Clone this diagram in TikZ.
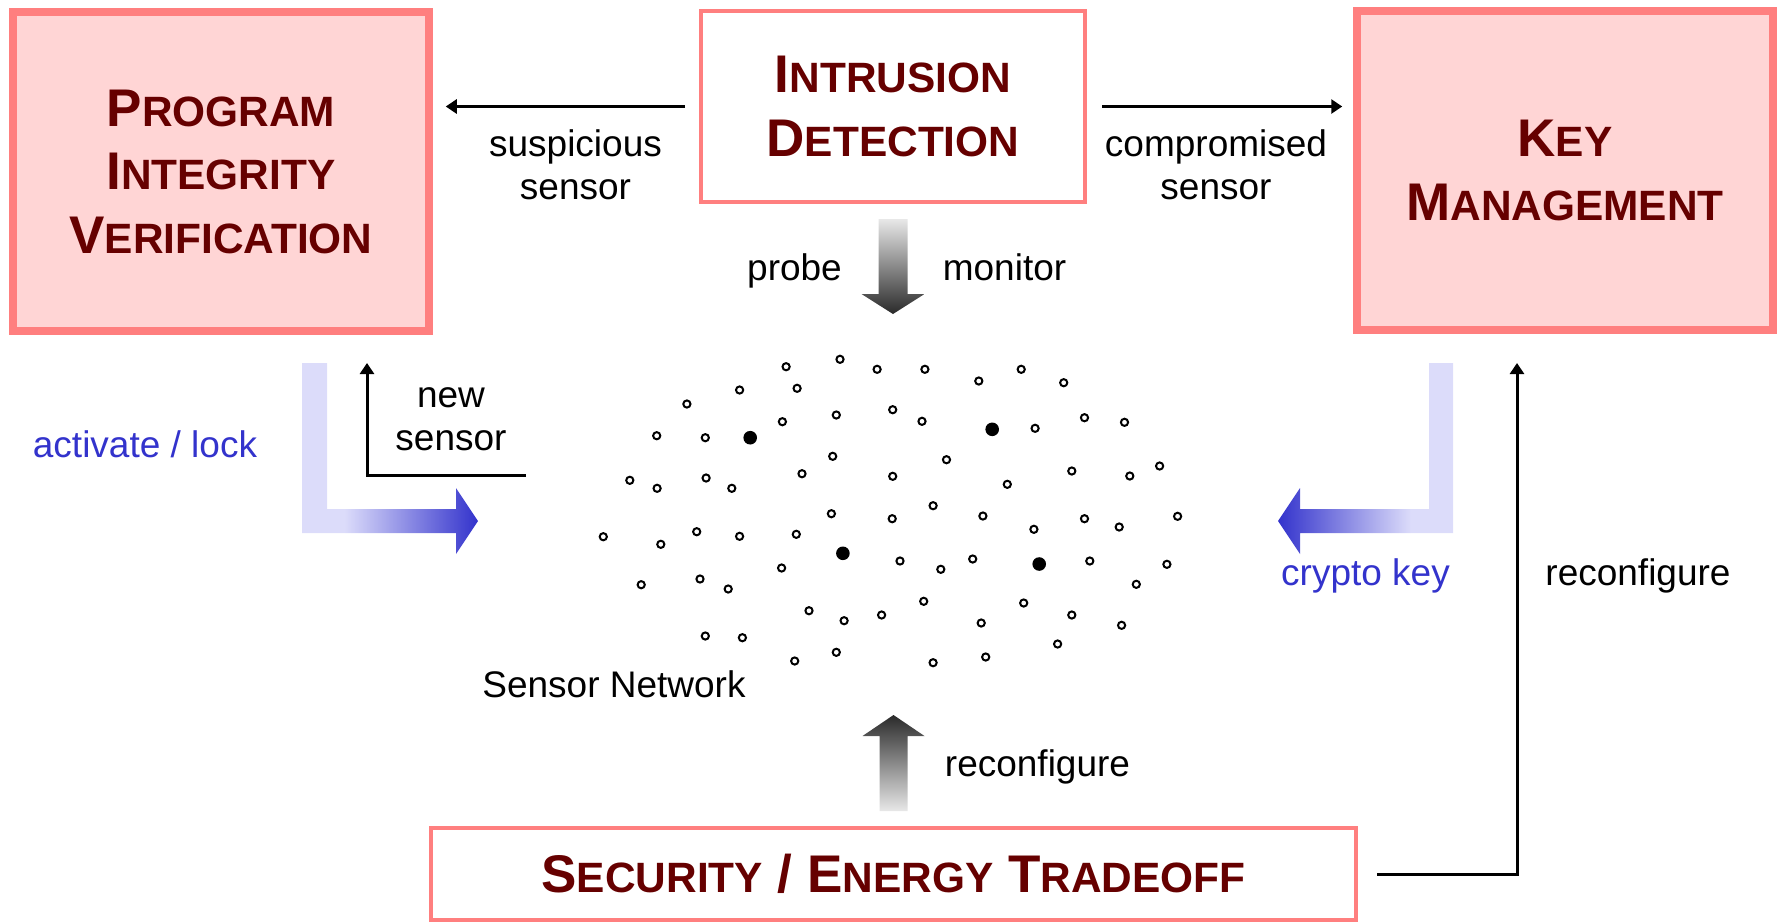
\documentclass[tikz,border=0pt]{standalone}
\usepackage{fontspec}
\setmainfont{Liberation Sans}
\usetikzlibrary{arrows.meta,calc}
\definecolor{boxline}{HTML}{FF7F7F}
\definecolor{boxfill}{HTML}{FFD5D5}
\definecolor{headred}{HTML}{660000}
\definecolor{lblblue}{HTML}{3333CC}
\definecolor{lavlight}{HTML}{DCDCFA}
\definecolor{graylight}{HTML}{E8E8E8}
\definecolor{graydark}{HTML}{2A2A2A}
\pgfdeclarehorizontalshading{bluelr}{100bp}{color(0bp)=(lavlight); color(25bp)=(lavlight); color(37bp)=(lavlight); color(75bp)=(lblblue); color(100bp)=(lblblue)}
\pgfdeclarehorizontalshading{bluerl}{100bp}{color(0bp)=(lblblue); color(25bp)=(lblblue); color(63bp)=(lavlight); color(75bp)=(lavlight); color(100bp)=(lavlight)}
\newcommand{\hsc}[2]{{\fontsize{26.5pt}{31.75pt}\selectfont #1}{\fontsize{21.2pt}{31.75pt}\selectfont #2}}
\begin{document}
\begin{tikzpicture}[x=0.5pt,y=-0.5pt,
  heading/.style={font=\bfseries\fontsize{26.5pt}{31.75pt}\selectfont, text=headred, align=center, inner sep=0pt},
  bigbox/.style={heading, draw=boxline, fill=boxfill, line width=3.75pt},
  thinbox/.style={heading, draw=boxline, fill=white, line width=2pt},
  lbl/.style={font=\fontsize{18.5pt}{21.5pt}\selectfont, align=center, inner sep=0pt, anchor=base},
  conn/.style={line width=1.5pt, -{Triangle[length=5.5pt,width=7pt]}},
  opensensor/.style={draw=black, line width=1pt, fill=white},
  keysensor/.style={fill=black}
]
\useasboundingbox (0,0) rectangle (1784,923);

% boxes
\node[bigbox, minimum width=208pt, minimum height=159.5pt] (piv) at (221,171.5)
  {\hsc{P}{ROGRAM}\\\hsc{I}{NTEGRITY}\\\hsc{V}{ERIFICATION}};
\node[bigbox, minimum width=208pt, minimum height=159.5pt] (km) at (1565,170.5)
  {\hsc{K}{EY}\\\hsc{M}{ANAGEMENT}};
\node[thinbox, minimum width=192pt, minimum height=95.5pt] (id) at (893,106.5)
  {\hsc{I}{NTRUSION}\\\hsc{D}{ETECTION}};
\node[thinbox, minimum width=462.5pt, minimum height=46pt] (set) at (893.5,874)
  {\hsc{S}{ECURITY} \hsc{/}{} \hsc{E}{NERGY} \hsc{T}{RADEOFF}};

% horizontal connectors
\draw[conn] ($(id.west)+(-14,0)$) -- ($(piv.east|-id.west)+(13,0)$);
\draw[conn] ($(id.east)+(15,0)$) -- ($(km.west|-id.east)+(-11,0)$);
\node[lbl] (lsusp) at (575.5,199) {suspicious\\sensor};
\node[lbl] (lcomp) at (1216,199) {compromised\\sensor};

% gray arrows
\shade[top color=graylight, bottom color=graydark]
  ($(id.south)+(-14.5,15)$) -- ++(29,0) -- ++(0,75) -- ++(17,0) -- ++(-31.5,20)
  -- ++(-31.5,-20) -- ++(17,0) -- cycle;
\node[lbl] (lprobe) at (794.5,280) {probe};
\node[lbl] (lmon) at (1004.5,280) {monitor};

\shade[top color=graydark, bottom color=graylight]
  ($(set.north)+(-14,-15)$) -- ++(28,0) -- ++(0,-75) -- ++(17,0) -- ++(-31,-21)
  -- ++(-31,21) -- ++(17,0) -- cycle;
\node[lbl] (lrec1) at (1037.5,776) {reconfigure};

% blue L arrows
\coordinate (pivbar) at (302,363);
\shade[shading=bluelr]
  (pivbar) -- ++(25,0) -- ++(0,146) -- ++(129,0) -- ++(0,-21) -- ++(22,33)
  -- ++(-22,33) -- ++(0,-21) -- ++(-154,0) -- cycle;
\node[lbl, text=lblblue] (lact) at (145,457) {activate / lock};

\coordinate (kmbar) at (1453,363);
\shade[shading=bluerl]
  (kmbar) -- ++(-24,0) -- ++(0,146) -- ++(-129,0) -- ++(0,-21) -- ++(-22,33)
  -- ++(22,33) -- ++(0,-21) -- ++(153,0) -- cycle;
\node[lbl, text=lblblue] (lcrypto) at (1365.5,585) {crypto key};

% new sensor
\coordinate (nsA) at (526,475);
\coordinate (nsB) at (367,363);
\draw[conn] (nsA) -| (nsB);
\node[lbl] (lnew) at (451,450) {new\\sensor};

% reconfigure to key management
\coordinate (rcB) at (1517,363);
\draw[conn] ($(set.east)+(19,0)$) -| (rcB);
\node[lbl] (lrec2) at (1638,585) {reconfigure};

% sensor network
\foreach \x/\y in {786.1/366.7, 840.0/359.3, 877.1/369.3, 924.9/369.3, 1021.2/369.3,
  978.8/381, 1063.7/382.7, 739.6/390, 797.1/388.3, 686.9/404, 782.4/421.7,
  836.3/415, 892.7/409.7, 922.0/421.3, 1035.1/428.3, 1084.5/417.7, 1124.5/422.3,
  656.7/435.7, 705.3/437.7, 832.7/456.3, 946.5/459.7, 802.0/473.7, 892.7/476.3,
  1071.8/471, 1129.8/476, 1159.6/466, 1007.3/484.3, 629.8/480.3, 657.1/488.3,
  706.1/478, 731.8/488.3, 831.4/513.7, 892.2/518.7, 933.1/505.7, 982.9/516,
  1033.9/529.3, 1084.5/518.7, 1119.2/527, 1177.6/516.3, 603.3/536.7, 660.8/544.3,
  696.7/531.7, 739.6/536.3, 796.3/534.3, 781.6/568, 900.0/561, 940.8/569.3,
  972.7/559, 1089.8/561, 1166.9/564.3, 641.2/584.7, 700.0/579, 728.2/589,
  1136.3/584.3, 809.0/610.7, 844.1/620.7, 881.6/615, 923.7/601.3, 981.2/623,
  1023.7/603, 1071.8/615, 1121.6/625.3, 705.3/636, 742.4/637.7, 794.7/661,
  836.3/652.3, 933.1/662.7, 985.7/657, 1057.6/644}
  {\draw[opensensor] (\x,\y) circle[radius=1.8pt];}
\foreach \x/\y in {750.2/437.7, 992.2/429.3, 842.9/553.3, 1039.2/564}
  {\fill[keysensor] (\x,\y) circle[radius=3.4pt];}
\node[lbl] (lnet) at (614,697) {Sensor Network};
\end{tikzpicture}
\end{document}
